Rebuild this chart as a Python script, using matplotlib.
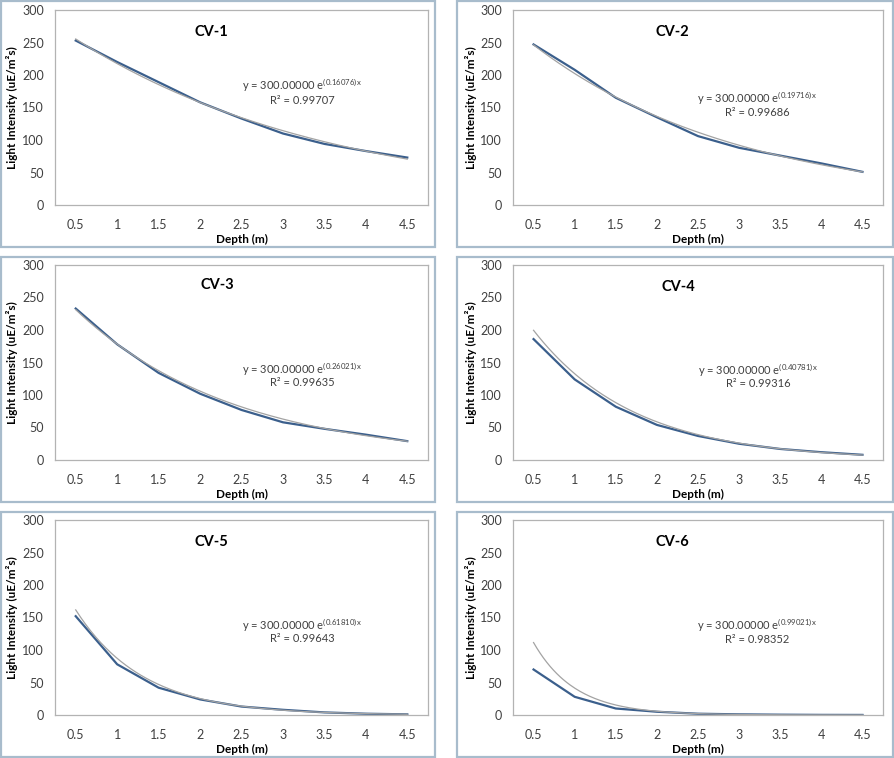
import numpy as np
import matplotlib
matplotlib.use("Agg")
import matplotlib.pyplot as plt
from matplotlib.patches import Rectangle

plt.rcParams['font.family'] = ['Lato', 'DejaVu Sans']
plt.rcParams['mathtext.fontset'] = 'custom'
plt.rcParams['mathtext.rm'] = 'Lato'
plt.rcParams['mathtext.it'] = 'Lato:italic'
plt.rcParams['mathtext.bf'] = 'Lato:bold'

# ---------------- data ----------------
depths = [0.5, 1, 1.5, 2, 2.5, 3, 3.5, 4, 4.5]
depth_labels = ["0.5", "1", "1.5", "2", "2.5", "3", "3.5", "4", "4.5"]
titles = ["CV-1", "CV-2", "CV-3", "CV-4", "CV-5", "CV-6"]

cv1 = [253, 220, 189, 158, 133, 110, 94, 83, 73]
cv2 = [247, 208, 165, 135, 106, 88, 76, 64, 51]
cv3 = [233, 178, 134, 102, 77, 58, 48, 39, 29]
cv4 = [186, 124, 82, 54, 37, 25, 17, 12, 8]
cv5 = [152, 78, 42, 24, 13, 8, 4, 2, 1]
cv6 = [70, 28, 10, 5, 2, 1, 0.5, 0.2, 0.1]
series = [cv1, cv2, cv3, cv4, cv5, cv6]

fit_a = 300.0
fit_k = [0.16076, 0.19716, 0.26021, 0.40781, 0.61810, 0.99021]
fit_r2 = ["0.99707", "0.99686", "0.99635", "0.99316", "0.99643", "0.98352"]

yticks = [0, 50, 100, 150, 200, 250, 300]

# ---------------- layout (pixels) ----------------
W, H = 894, 758
fig = plt.figure(figsize=(W / 100, H / 100), dpi=100)

col_panel = [(1, 434), (457, 436)]
row_panel = [(1, 246), (257, 245), (512, 245)]
col_plot = [(55, 428), (513, 883)]
row_plot = [(10, 205), (265, 460), (520, 715)]

eq_pos = [(0.662, 0.615, 0.538), (0.66, 0.549, 0.472),
          (0.662, 0.467, 0.395), (0.663, 0.462, 0.39),
          (0.662, 0.462, 0.39), (0.66, 0.462, 0.385)]
title_pos = [(0.42, 0.887), (0.43, 0.887), (0.434, 0.897),
             (0.446, 0.887), (0.42, 0.887), (0.43, 0.887)]

border_col = '#a8bccc'
axis_col = '#b3b3b3'
blue = '#3b5f8c'
gray = '#a3a3a3'
text_col = '#404040'

pos = np.arange(len(depths))
t = np.linspace(1, len(depths), 200)

for i in range(6):
    r, c = divmod(i, 2)
    px, pw = col_panel[c]
    py, ph = row_panel[r]
    fig.patches.append(Rectangle((px / W, 1 - (py + ph) / H), pw / W, ph / H,
                                 transform=fig.transFigure, fill=False,
                                 edgecolor=border_col, linewidth=1.6, zorder=0))
    l, rr = col_plot[c]
    top, bot = row_plot[r]
    ax = fig.add_axes([l / W, 1 - bot / H, (rr - l) / W, (bot - top) / H])
    ax.plot(pos, series[i], color=blue, lw=1.6, zorder=3)
    ax.plot(t - 1, fit_a * np.exp(-fit_k[i] * t), color=gray, lw=0.9, zorder=4)
    ax.set_xlim(-0.5, len(depths) - 0.5)
    ax.set_ylim(0, 300)
    ax.set_xticks(pos)
    ax.set_xticklabels(depth_labels)
    ax.set_yticks(yticks)
    ax.tick_params(length=0, labelsize=9, labelcolor=text_col)
    ax.tick_params(axis='x', pad=10)
    ax.tick_params(axis='y', pad=8)
    for s in ax.spines.values():
        s.set_color(axis_col)
        s.set_linewidth(0.9)
    ax.set_xlabel("Depth (m)", fontsize=8.5, fontweight='bold', color='black')
    ax.xaxis.set_label_coords(0.5, -0.148)
    ax.set_ylabel("Light Intensity (uE/m²s)", fontsize=8.5, fontweight='bold', color='black')
    ax.yaxis.set_label_coords(-0.098, 0.5)
    tx, ty = title_pos[i]
    ax.text(tx, ty, titles[i], transform=ax.transAxes, ha='center', va='center',
            fontsize=10.5, fontweight='bold', color='black')
    ex, ey, ry = eq_pos[i]
    ax.text(ex, ey, "y = 300.00000 e$^{\\mathrm{(%.5f)x}}$" % fit_k[i],
            transform=ax.transAxes, ha='center', va='center', fontsize=8, color=text_col)
    ax.text(ex, ry, "R² = " + fit_r2[i], transform=ax.transAxes,
            ha='center', va='center', fontsize=8, color=text_col)

fig.savefig("out.png", dpi=100)
